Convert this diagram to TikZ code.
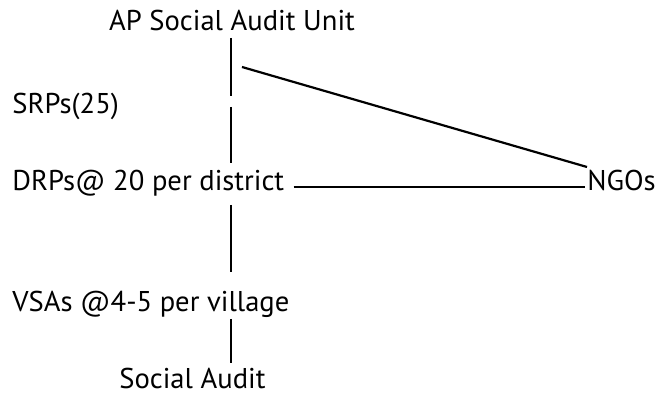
\documentclass[tikz,border=0pt]{standalone}
\usepackage{fontspec}
\setmainfont{PT Sans}
\usepackage{tikz}
\usetikzlibrary{positioning}
\tikzset{lbl/.style={inner sep=0pt, anchor=base west, font=\fontsize{14.3}{17}\selectfont},
  link/.style={line width=1.1pt}}

\begin{document}
\begin{tikzpicture}[x=0.5pt, y=-0.5pt]
  \useasboundingbox (0,0) rectangle (661,394);

  % levels of the audit set-up
  \node[lbl, anchor=base] (ap) at (232,31) {AP Social Audit Unit};
  \node[lbl] (srp) at (12,114) {SRPs(25)};
  \node[lbl] (drp) at (12,191) {DRPs@ 20 per district};
  \node[lbl] (ngo) at (587,191) {NGOs};
  \node[lbl] (vsa) at (12,312) {VSAs @4-5 per village};
  \node[lbl] (sa) at (119,389) {Social Audit};

  % points where the vertical links start and stop
  \coordinate (a1) at (231,38);
  \coordinate (a2) at (231,96);
  \coordinate (b1) at (231,107);
  \coordinate (b2) at (231,163);
  \coordinate (c1) at (231,205);
  \coordinate (c2) at (231,272);
  \coordinate (d1) at (231,319);
  \coordinate (d2) at (231,363);
  \coordinate (n1) at (242,67);

  \draw[link] (a1) -- (a2);
  \draw[link] (b1) -- (b2);
  \draw[link] (c1) -- (c2);
  \draw[link] (d1) -- (d2);

  % NGOs tie in with the unit and the DRPs
  \draw[link] (n1) -- ([shift={(0,-24)}]ngo.base west);
  \draw[link] ([shift={(9,-4)}]drp.base east) -- ([shift={(-2,-4)}]ngo.base west);
\end{tikzpicture}
\end{document}
